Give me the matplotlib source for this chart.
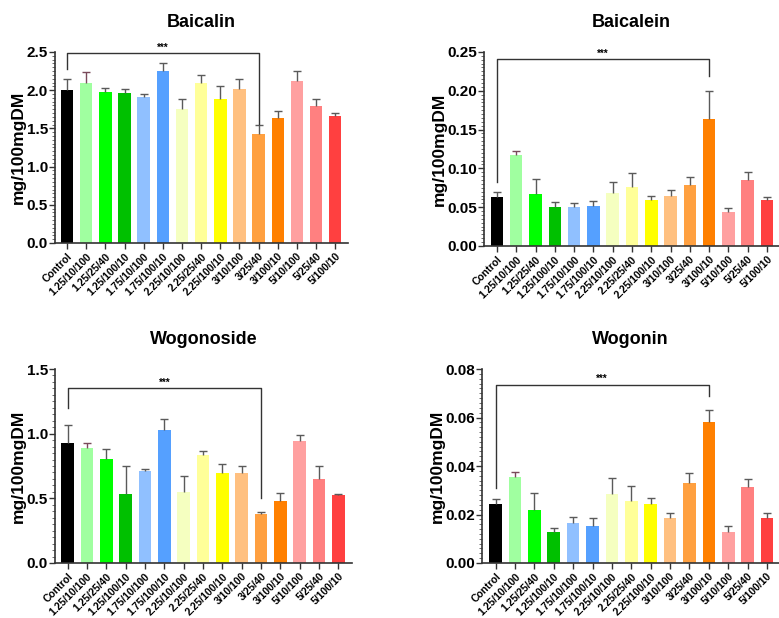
import matplotlib
matplotlib.use("Agg")
import matplotlib.pyplot as plt
from matplotlib.ticker import AutoMinorLocator, MultipleLocator
import numpy as np

plt.rcParams['font.family'] = ['Liberation Sans', 'DejaVu Sans']
plt.rcParams['font.weight'] = 'bold'

categories = ["Control", "1.25/10/100", "1.25/25/40", "1.25/100/10", "1.75/10/100",
              "1.75/100/10", "2.25/10/100", "2.25/25/40", "2.25/100/10", "3/10/100",
              "3/25/40", "3/100/10", "5/10/100", "5/25/40", "5/100/10"]

colors = ["#000000", "#a0ffa0", "#00ff00", "#00c000", "#90c0ff", "#55a0ff",
          "#f5ffc0", "#ffff99", "#ffff00", "#ffc080", "#ffa040", "#ff8000",
          "#ffa0a0", "#ff8080", "#ff4040"]

baicalin_mean = [2.00, 2.09, 1.97, 1.96, 1.91, 2.25, 1.755, 2.10, 1.88, 2.01, 1.42, 1.63, 2.115, 1.79, 1.668]
baicalin_err = [0.147, 0.15, 0.06, 0.06, 0.04, 0.11, 0.13, 0.10, 0.176, 0.137, 0.126, 0.103, 0.13, 0.096, 0.035]

baicalein_mean = [0.063, 0.1175, 0.0673, 0.0497, 0.0497, 0.0515, 0.068, 0.076, 0.0596, 0.065, 0.078, 0.164, 0.0433, 0.085, 0.0596]
baicalein_err = [0.006, 0.0051, 0.0185, 0.0065, 0.0063, 0.006, 0.015, 0.0175, 0.0043, 0.0075, 0.0108, 0.036, 0.006, 0.0098, 0.0039]

wogonoside_mean = [0.925, 0.886, 0.801, 0.532, 0.714, 1.027, 0.55, 0.835, 0.696, 0.699, 0.378, 0.478, 0.94, 0.647, 0.527]
wogonoside_err = [0.141, 0.044, 0.078, 0.216, 0.016, 0.088, 0.126, 0.033, 0.069, 0.054, 0.015, 0.061, 0.052, 0.106, 0.01]

wogonin_mean = [0.0243, 0.0355, 0.022, 0.0129, 0.0165, 0.0154, 0.0285, 0.0256, 0.0245, 0.0186, 0.033, 0.0581, 0.0129, 0.0313, 0.0187]
wogonin_err = [0.002, 0.0019, 0.0069, 0.0014, 0.0023, 0.003, 0.0064, 0.0062, 0.0022, 0.0019, 0.0042, 0.005, 0.0022, 0.0035, 0.0019]

panels = [
    dict(title="Baicalin", mean=baicalin_mean, err=baicalin_err, ymax=2.5, major=0.5, fmt="%.1f",
         pos=[0.0706, 0.6068, 0.3764, 0.3091], xlim=(-0.63, 14.68),
         bracket=(0, 10, 2.49, 2.28, 1.555), star_y=2.55),
    dict(title="Baicalein", mean=baicalein_mean, err=baicalein_err, ymax=0.25, major=0.05, fmt="%.2f",
         pos=[0.6213, 0.6020, 0.3787, 0.3139], xlim=(-0.67, 14.62),
         bracket=(0, 11, 0.2406, 0.0828, 0.2187), star_y=0.2475),
    dict(title="Wogonoside", mean=wogonoside_mean, err=wogonoside_err, ymax=1.5, major=0.5, fmt="%.1f",
         pos=[0.0706, 0.0890, 0.3812, 0.3139], xlim=(-0.65, 14.7),
         bracket=(0, 10, 1.354, 1.2, 0.50), star_y=1.395),
    dict(title="Wogonin", mean=wogonin_mean, err=wogonin_err, ymax=0.08, major=0.02, fmt="%.2f",
         pos=[0.6188, 0.0890, 0.3812, 0.3139], xlim=(-0.7, 14.62),
         bracket=(0, 11, 0.0734, 0.031, 0.069), star_y=0.0758),
]

fig = plt.figure(figsize=(7.79, 6.18), dpi=100)
x = np.arange(len(categories))

for p in panels:
    ax = fig.add_axes(p["pos"])
    ax.bar(x, p["mean"], width=0.65, color=colors, edgecolor='none', zorder=2)
    for i in range(len(x)):
        ecol = "#7a4a5a" if i == 1 else "#5a5a5a"
        res = ax.errorbar(x[i], p["mean"][i], yerr=[[0], [p["err"][i]]], fmt='none',
                          ecolor=ecol, elinewidth=1.0, capsize=3.2, capthick=1.0, zorder=3)
        res[1][0].set_visible(False)
    ax.set_xlim(*p["xlim"])
    ax.set_ylim(0, p["ymax"])
    ax.yaxis.set_major_locator(MultipleLocator(p["major"]))
    ax.yaxis.set_minor_locator(AutoMinorLocator(10))
    ax.yaxis.set_major_formatter(matplotlib.ticker.FormatStrFormatter(p["fmt"]))
    ax.set_xticks(x)
    ax.set_xticklabels(categories, rotation=45, ha='right', rotation_mode='anchor',
                       fontsize=7.5, fontweight='bold')
    ax.tick_params(axis='y', which='major', labelsize=11, length=4, width=1.0, color='#333333', pad=1)
    ax.tick_params(axis='y', which='minor', length=2, width=0.6, color='#555555')
    ax.tick_params(axis='x', which='major', length=4, width=1.0, color='#333333', pad=2)
    for lbl in ax.get_yticklabels():
        lbl.set_fontweight('bold')
    for s in ['top', 'right']:
        ax.spines[s].set_visible(False)
    for s in ['left', 'bottom']:
        ax.spines[s].set_linewidth(1.2)
        ax.spines[s].set_color('#333333')
    ax.set_ylabel("mg/100mgDM", fontsize=12.5, fontweight='bold', labelpad=0.5)
    ax.set_title(p["title"], fontsize=13, fontweight='bold', pad=18)
    i0, i1, ytop, yl, yr = p["bracket"]
    ax.plot([i0, i0, i1, i1], [yl, ytop, ytop, yr], color='#333333', lw=1.0,
            clip_on=False, zorder=4)
    ax.text((i0 + i1) / 2, p["star_y"], "***", ha='center', va='center',
            fontsize=7, fontweight='bold', clip_on=False)

fig.savefig("out.png", dpi=100)
